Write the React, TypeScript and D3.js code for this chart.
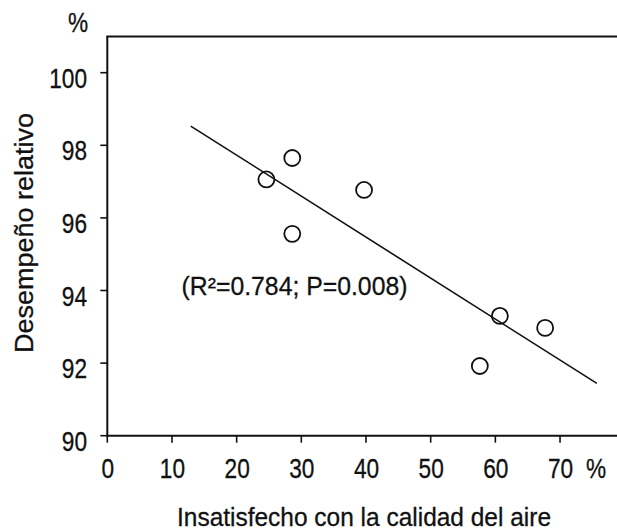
import React, { useRef, useEffect } from "react";
import * as d3 from "d3";

// values
const insatisfecho = [24.6, 28.6, 28.6, 39.7, 60.7, 67.7, 57.6];
const desempeno = [97.06, 97.65, 95.56, 96.77, 93.3, 92.97, 91.92];
const fitX = [12.9, 75.7];
const fitY = [98.53, 91.44];
const xTicks = [0, 10, 20, 30, 40, 50, 60, 70];
const yTicks = [90, 92, 94, 96, 98, 100];
const annotation = "(R²=0.784; P=0.008)";

export default function App() {
  const svgRef = useRef<SVGSVGElement>(null);
  const width = 617;
  const height = 532;

  useEffect(() => {
    const font = "'Liberation Sans', Arial, Helvetica, sans-serif";
    const x = d3.scaleLinear().domain([0, 80]).range([107.3, 624.7]);
    const y = d3.scaleLinear().domain([90, 101]).range([435.7, 36.4]);

    const svg = d3.select(svgRef.current);
    svg.selectAll("*").remove();

    // condensed tick digits, like the scanned figure
    const label = (g, tx, ty, anchor, s) =>
      g.append("text")
        .attr("transform", `translate(${tx},${ty}) scale(0.84,1)`)
        .attr("text-anchor", anchor)
        .attr("stroke", "#111").attr("stroke-width", 0.3)
        .text(s);

    // frame: left, bottom, top
    const frame = svg.append("g").attr("stroke", "#111").attr("stroke-width", 2).attr("fill", "none");
    frame.append("line").attr("x1", x(0)).attr("x2", x(0)).attr("y1", y(101)).attr("y2", y(90));
    frame.append("line").attr("x1", x(0) - 1).attr("x2", x(80)).attr("y1", y(90)).attr("y2", y(90));
    frame.append("line").attr("x1", x(0) - 1).attr("x2", x(80)).attr("y1", y(101)).attr("y2", y(101));

    // x ticks
    const gx = svg.append("g").attr("font-family", font).attr("font-size", 27).attr("fill", "#111");
    xTicks.forEach(t => {
      gx.append("line").attr("x1", x(t)).attr("x2", x(t)).attr("y1", y(90)).attr("y2", y(90) + 7)
        .attr("stroke", "#111").attr("stroke-width", 1.6);
      label(gx, x(t) + 0.5, y(90) + 42, "middle", t);
    });
    label(gx, 596, y(90) + 42, "middle", "%");

    // y ticks
    const gy = svg.append("g").attr("font-family", font).attr("font-size", 27).attr("fill", "#111");
    yTicks.forEach(t => {
      gy.append("line").attr("x1", x(0) - 7).attr("x2", x(0)).attr("y1", y(t)).attr("y2", y(t))
        .attr("stroke", "#111").attr("stroke-width", 1.6);
      label(gy, 87, y(t) + 15, "end", t);
    });
    label(gy, 78, 32, "middle", "%");

    // regression line
    const line = d3.line<number>().x((d, i) => x(fitX[i])).y(d => y(d));
    svg.append("path").attr("d", line(fitY)).attr("fill", "none")
      .attr("stroke", "#111").attr("stroke-width", 1.6);

    // points
    svg.append("g").selectAll("circle")
      .data(insatisfecho)
      .enter()
      .append("circle")
      .attr("cx", d => x(d))
      .attr("cy", (d, i) => y(desempeno[i]))
      .attr("r", 8)
      .attr("fill", "none")
      .attr("stroke", "#111")
      .attr("stroke-width", 1.8);

    svg.append("text").attr("x", 181.5).attr("y", 295)
      .attr("font-family", font).attr("font-size", 26).attr("fill", "#111")
      .attr("stroke", "#111").attr("stroke-width", 0.3)
      .attr("textLength", 226).attr("lengthAdjust", "spacingAndGlyphs")
      .text(annotation);

    // axis titles
    svg.append("text").attr("x", 364).attr("y", 526)
      .attr("text-anchor", "middle").attr("font-family", font).attr("font-size", 26).attr("fill", "#111")
      .attr("stroke", "#111").attr("stroke-width", 0.3)
      .attr("textLength", 374).attr("lengthAdjust", "spacingAndGlyphs")
      .text("Insatisfecho con la calidad del aire");
    svg.append("text")
      .attr("transform", "translate(33,233) rotate(-90)")
      .attr("text-anchor", "middle").attr("font-family", font).attr("font-size", 26).attr("fill", "#111")
      .attr("stroke", "#111").attr("stroke-width", 0.3)
      .attr("textLength", 240).attr("lengthAdjust", "spacingAndGlyphs")
      .text("Desempeño relativo");
  }, []);

  return (
    <svg ref={svgRef} width={width} height={height}
      style={{ position: "absolute", left: 0, top: 0, background: "#fff" }}></svg>
  );
}
